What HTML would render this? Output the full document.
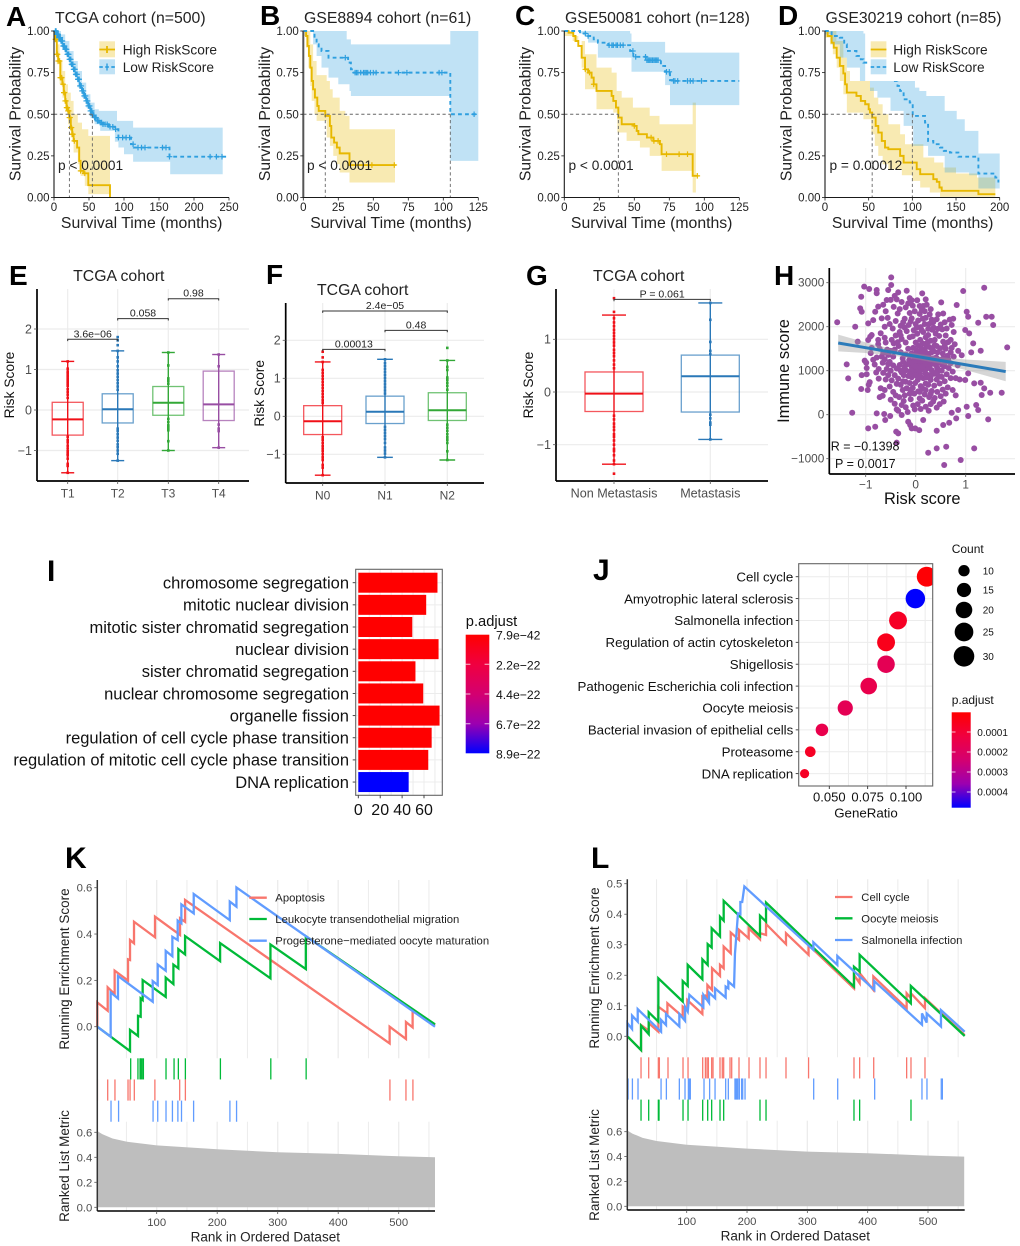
<!DOCTYPE html>
<html>
<head>
<meta charset="utf-8">
<title>Risk score multi-panel figure</title>
<style>
html,body{margin:0;padding:0;background:#fff}
svg{display:block}
text{font-family:"Liberation Sans",sans-serif;fill:#111}
.letter{font-weight:bold;font-size:28px;fill:#000}
.letter2{font-weight:bold;font-size:30px;fill:#000}
.kmtitle{font-size:15.8px;fill:#222}
.kmaxis{font-size:15.8px;fill:#222}
.kmleg{font-size:13.7px;fill:#222}
.ptext{font-size:13.7px;fill:#222}
.boxtitle{font-size:15.8px;fill:#222;text-anchor:middle}
.boxy{font-size:13.8px;fill:#111;text-anchor:middle}
.gsea{font-size:13.5px;fill:#222}
.gsealeg{font-size:11.3px;fill:#222}
</style>
</head>
<body>
<svg id="fig" xmlns="http://www.w3.org/2000/svg" width="1020" height="1246" viewBox="0 0 1020 1246">
<defs>
<linearGradient id="padj" x1="0" y1="0" x2="0" y2="1">
<stop offset="0" stop-color="#ff0000"/><stop offset=".25" stop-color="#f00040"/><stop offset=".5" stop-color="#d40070"/><stop offset=".75" stop-color="#9c00b0"/><stop offset="1" stop-color="#0000ff"/>
</linearGradient>
<clipPath id="j-clip"><rect x="799" y="564" width="133.7" height="222"/></clipPath>
<clipPath id="e-clip"><rect x="37" y="289" width="212" height="192"/></clipPath>
</defs>
<g id="plots"></g>

<!-- Panel letters -->
<text class="letter" x="6" y="26">A</text>
<text class="letter" x="260" y="25">B</text>
<text class="letter" x="515" y="25">C</text>
<text class="letter" x="778" y="25">D</text>
<text class="letter" x="9" y="285">E</text>
<text class="letter" x="266" y="284">F</text>
<text class="letter" x="526" y="285">G</text>
<text class="letter" x="774" y="285">H</text>
<text class="letter2" x="47" y="581">I</text>
<text class="letter2" x="593" y="580">J</text>
<text class="letter2" x="65" y="868">K</text>
<text class="letter2" x="591" y="868">L</text>

<!-- KM titles and axis titles -->
<text class="kmtitle" x="55" y="23">TCGA cohort (n=500)</text>
<text class="kmtitle" x="304" y="23">GSE8894 cohort (n=61)</text>
<text class="kmtitle" x="565" y="23">GSE50081 cohort (n=128)</text>
<text class="kmtitle" x="825.5" y="23">GSE30219 cohort (n=85)</text>
<text class="kmaxis" text-anchor="middle" transform="translate(20.5,114) rotate(-90)">Survival Probability</text>
<text class="kmaxis" text-anchor="middle" transform="translate(270,114) rotate(-90)">Survival Probability</text>
<text class="kmaxis" text-anchor="middle" transform="translate(530.5,114) rotate(-90)">Survival Probability</text>
<text class="kmaxis" text-anchor="middle" transform="translate(791.5,114) rotate(-90)">Survival Probability</text>
<text class="kmaxis" text-anchor="middle" x="141.7" y="228">Survival Time (months)</text>
<text class="kmaxis" text-anchor="middle" x="391" y="228">Survival Time (months)</text>
<text class="kmaxis" text-anchor="middle" x="651.7" y="228">Survival Time (months)</text>
<text class="kmaxis" text-anchor="middle" x="912.7" y="228">Survival Time (months)</text>
<text class="ptext" x="58" y="170">p &lt; 0.0001</text>
<text class="ptext" x="307" y="170">p &lt; 0.0001</text>
<text class="ptext" x="568.5" y="170">p &lt; 0.0001</text>
<text class="ptext" x="829.5" y="170">p = 0.00012</text>

<!-- Legend A -->
<g>
<rect x="99.3" y="41.3" width="15.7" height="16" fill="#E7B800" fill-opacity=".3"/>
<rect x="99.3" y="59.3" width="15.7" height="15" fill="#2E9FDF" fill-opacity=".3"/>
<path d="M99.3 49.5H115M107 46V53" stroke="#E7B800" stroke-width="1.8" fill="none"/>
<path d="M99.3 67H115" stroke="#2E9FDF" stroke-width="1.8" stroke-dasharray="3.5 2.5" fill="none"/>
<path d="M107 63.5V70.5" stroke="#2E9FDF" stroke-width="1.4" fill="none"/>
<text class="kmleg" x="122.7" y="54.7">High RiskScore</text>
<text class="kmleg" x="122.7" y="72">Low RiskScore</text>
</g>
<!-- Legend D -->
<g>
<rect x="870" y="40" width="122" height="41" fill="#fff"/>
<rect x="870.7" y="41.3" width="15.7" height="16" fill="#E7B800" fill-opacity=".3"/>
<rect x="870.7" y="59.3" width="15.7" height="15" fill="#2E9FDF" fill-opacity=".3"/>
<path d="M870.7 49.5H886.4" stroke="#E7B800" stroke-width="1.8" fill="none"/>
<path d="M870.7 67H886.4" stroke="#2E9FDF" stroke-width="1.8" stroke-dasharray="3.5 2.5" fill="none"/>
<text class="kmleg" x="893.3" y="54.7">High RiskScore</text>
<text class="kmleg" x="893.3" y="72">Low RiskScore</text>
</g>

<!-- Box plot titles -->
<text class="boxtitle" x="118.8" y="281">TCGA cohort</text>
<text class="boxtitle" x="362.7" y="295">TCGA cohort</text>
<text class="boxtitle" x="638.7" y="281">TCGA cohort</text>
<text class="boxy" transform="translate(14,385) rotate(-90)">Risk Score</text>
<text class="boxy" transform="translate(264,393.3) rotate(-90)">Risk Score</text>
<text class="boxy" transform="translate(533,385) rotate(-90)">Risk Score</text>

<!-- Scatter titles -->
<text font-size="16.4" fill="#111" text-anchor="middle" transform="translate(789,371) rotate(-90)">Immune score</text>
<text font-size="16.4" fill="#111" text-anchor="middle" x="922.3" y="504">Risk score</text>
<text font-size="12.5" fill="#111" x="830.7" y="450.5">R = −0.1398</text>
<text font-size="12.5" fill="#111" x="835" y="468">P = 0.0017</text>

<!-- I legend -->
<text font-size="14.7" fill="#111" x="465.8" y="625.8">p.adjust</text>
<rect x="465.7" y="634.7" width="23.6" height="118.6" fill="url(#padj)"/>
<path d="M465.7 664.2h4.7M484.6 664.2h4.7M465.7 694h4.7M484.6 694h4.7M465.7 723.7h4.7M484.6 723.7h4.7" stroke="#fff" stroke-opacity=".75" stroke-width="1" fill="none"/>
<!-- J legend -->
<text font-size="12" fill="#111" x="951.7" y="553">Count</text>
<text font-size="12" fill="#111" x="951.7" y="704">p.adjust</text>
<rect x="951.7" y="712.3" width="19" height="95.4" fill="url(#padj)"/>
<path d="M951.7 732h3.8M966.9 732h3.8M951.7 752h3.8M966.9 752h3.8M951.7 772h3.8M966.9 772h3.8M951.7 792h3.8M966.9 792h3.8" stroke="#fff" stroke-opacity=".75" stroke-width="1" fill="none"/>
<text font-size="13.3" fill="#111" text-anchor="middle" x="866" y="817.5">GeneRatio</text>

<!-- K text -->
<text class="gsea" text-anchor="middle" transform="translate(69,969) rotate(-90)">Running Enrichment Score</text>
<text class="gsea" text-anchor="middle" transform="translate(69,1166) rotate(-90)">Ranked List Metric</text>
<text class="gsea" text-anchor="middle" font-size="13.6" x="265.3" y="1241.5">Rank in Ordered Dataset</text>
<text class="gsealeg" x="275.3" y="901.7">Apoptosis</text>
<text class="gsealeg" x="275.3" y="923">Leukocyte transendothelial migration</text>
<text class="gsealeg" x="275.3" y="944.7">Progesterone−mediated oocyte maturation</text>
<!-- L text -->
<text class="gsea" text-anchor="middle" transform="translate(599,968) rotate(-90)">Running Enrichment Score</text>
<text class="gsea" text-anchor="middle" transform="translate(599,1165) rotate(-90)">Ranked List Metric</text>
<text class="gsea" text-anchor="middle" font-size="13.6" x="795.3" y="1240.5">Rank in Ordered Dataset</text>
<text class="gsealeg" x="861.3" y="901">Cell cycle</text>
<text class="gsealeg" x="861.3" y="922.3">Oocyte meiosis</text>
<text class="gsealeg" x="861.3" y="944">Salmonella infection</text>
</svg>

<script>
/* ---------- Kaplan-Meier data: [months, survival] ---------- */
const kmYTicks=[0,.25,.5,.75,1];
const kmYLabels=['0.00','0.25','0.50','0.75','1.00'];
const aXTicks=[0,50,100,150,200,250];
const bXTicks=[0,25,50,75,100,125];
const cXTicks=[0,25,50,75,100,125];
const dXTicks=[0,50,100,150,200];

const aHigh=[[0,1],[2,.95],[4,.86],[6,.82],[9,.72],[12,.68],[14,.63],[16,.58],[18,.54],[20,.52],[22,.48],[24,.42],[26,.38],[28,.34],[33,.3],[36,.22],[38,.16],[42,.145],[49,.074],[80,0]];
const aHighUp=[[0,1],[4,.92],[8,.82],[12,.76],[16,.68],[20,.63],[24,.58],[28,.5],[34,.45],[40,.41],[49,.37],[80,.37]];
const aHighLow=[[0,.97],[4,.8],[8,.68],[12,.6],[16,.52],[20,.44],[24,.36],[28,.27],[34,.2],[38,.13],[44,.07],[49,.02],[80,0]];
const aLow=[[0,1],[4,.98],[7,.96],[10,.94],[13,.91],[16,.89],[19,.86],[22,.83],[25,.8],[28,.77],[31,.74],[34,.71],[37,.67],[40,.64],[43,.61],[46,.58],[49,.55],[52,.52],[55,.495],[58,.48],[62,.46],[66,.45],[70,.44],[78,.425],[87,.41],[92,.36],[106,.36],[110,.32],[114,.30],[165,.245],[247,.245]];
const aLowUp=[[0,1],[10,.98],[16,.94],[22,.88],[28,.82],[34,.76],[40,.69],[46,.62],[52,.57],[58,.53],[64,.52],[87,.52],[90,.46],[113,.42],[241,.42]];
const aLowLow=[[0,.99],[4,.96],[10,.91],[16,.86],[22,.79],[28,.73],[34,.66],[40,.6],[46,.54],[52,.48],[58,.44],[66,.4],[87,.335],[92,.3],[100,.26],[113,.215],[166,.14],[241,.14]];
const aHighCensor=[2,3,4,5,6,8,9,10,11,13,14,15,16,17,18,19,20,21,22,23,24,25,26,27,29,38,44];
const aLowCensor=[2,3,4,5,6,7,8,9,10,11,12,13,14,15,16,17,18,19,20,21,22,23,24,25,26,27,28,29,30,31,32,33,34,35,36,37,38,39,40,41,42,43,44,45,46,47,48,49,50,51,52,53,54,55,56,57,58,59,60,62,64,66,68,70,73,76,80,84,88,92,98,103,108,113,120,125,130,155,160,165,223,232,240];
const aMedians=[22,54.8];

const bHigh=[[0,1],[2,.97],[3,.91],[4,.85],[5,.78],[6,.7],[7,.65],[8.3,.6],[10,.55],[11,.52],[15.7,.49],[19,.43],[20,.36],[22,.33],[24,.30],[26,.265],[33,.195],[66,.195]];
const bHighUp=[[0,1],[3,1],[5,.92],[7,.82],[9.5,.735],[16.7,.70],[19,.65],[21,.6],[26,.52],[30,.49],[33,.41],[65.5,.41]];
const bHighLow=[[0,.97],[2,.9],[3.6,.78],[5,.67],[6,.58],[8,.5],[9.5,.46],[16.7,.36],[19,.31],[21.4,.25],[24,.2],[26,.15],[33,.09],[65.5,.09]];
const bLow=[[0,1],[7,1],[8,.96],[9.5,.92],[11,.9],[13,.88],[18,.84],[32,.81],[34,.77],[36,.75],[105,.5],[125,.5]];
const bLowUp=[[7,1],[31,.95],[34,.92],[105,1],[125,1]];
const bLowLow=[[7,.92],[9.5,.85],[13,.78],[18,.72],[25,.68],[33,.64],[34,.61],[105,.22],[125,.22]];
const bHighCensor=[49,65];
const bLowCensor=[30,37,38,39,41,43,44,45,46,48,50,52,68,74,97,99,122];
const bMedians=[15.7,105];

const cHigh=[[0,1],[3,.99],[6.4,.97],[8,.94],[10,.91],[12.4,.84],[14.8,.77],[17,.75],[19.5,.72],[21,.68],[23,.64],[33.8,.61],[35,.58],[36.9,.54],[38.6,.48],[41,.44],[50,.43],[51.7,.40],[52.9,.38],[59,.36],[63.6,.34],[68.3,.32],[69.5,.26],[91.7,.13],[95.7,.13]];
const cHighUp=[[0,1],[7,.97],[10,.94],[14.8,.86],[23,.78],[33.8,.75],[37.4,.64],[41,.6],[49,.54],[61,.49],[68,.44],[91.7,.57],[94,.57]];
const cHighLow=[[0,.97],[6,.94],[12.4,.78],[14.8,.65],[23,.53],[35,.51],[37.9,.39],[44.5,.34],[54,.30],[61,.25],[69.5,.16],[91.7,.03],[94,.03]];
const cLow=[[0,1],[11.2,.985],[17,.97],[21,.95],[24,.93],[31.4,.915],[47,.88],[49.3,.845],[58.8,.825],[69,.79],[72,.755],[75.5,.705],[78,.70],[125,.70]];
const cLowUp=[[0,1],[47,.985],[48,.935],[72,.87],[125,.87]];
const cLowLow=[[0,1],[11,.985],[17,.93],[24,.84],[48,.755],[72,.675],[75.5,.555],[125,.555]];
const cHighCensor=[15,18,21,50,62,64,67,73,82,88,95];
const cLowCensor=[15,17,32,34,35,37,38,40,42,49,51,58,59,60,61,62,63,64,65,66,67,73,75,78,79,81,88,90,92,98];
const cMedians=[38.6];

const dHigh=[[0,1],[3,.97],[7.6,.93],[10,.9],[13.4,.84],[17,.79],[21,.745],[23,.68],[25,.63],[36,.61],[41,.58],[46,.56],[50,.53],[51.5,.51],[54,.48],[58,.43],[61,.39],[65,.34],[68.7,.30],[72.5,.29],[86,.25],[90,.21],[101,.21],[105,.17],[109,.14],[120,.14],[124,.11],[128,.094],[131,.06],[133.6,.04],[174,.04],[175.6,.02],[195,.02]];
const dHighUp=[[0,1],[13,.94],[21,.84],[25,.76],[28.6,.70],[51.5,.66],[56,.6],[61,.56],[66,.5],[72.5,.44],[86,.38],[91.6,.32],[112.6,.24],[125,.21],[135.5,.18],[150,.144],[174,.12],[195,.12]];
const dHighLow=[[0,.96],[5.7,.92],[9,.86],[13.4,.78],[17,.7],[21,.62],[25,.51],[44,.47],[53,.38],[57,.31],[61,.25],[66,.2],[72.5,.17],[88,.134],[100,.1],[109,.06],[120,.03],[131.7,.004],[195,.004]];
const dLow=[[0,1],[7.6,.97],[17,.96],[22,.92],[25,.88],[36,.85],[41,.83],[44,.81],[80,.70],[83,.67],[86,.64],[90,.59],[97,.57],[100.4,.49],[114.5,.45],[118,.34],[124,.32],[131.7,.30],[136,.28],[143,.27],[152.7,.245],[175.6,.144],[195,.12],[198.5,.09]];
const dLowUp=[[0,1],[28.6,1],[44,.985],[46,.70],[103,.66],[108,.64],[116,.61],[137,.52],[150.8,.47],[160,.4],[175.6,.264],[200,.264]];
const dLowLow=[[0,.98],[7.6,.92],[17,.84],[25,.78],[40,.70],[51.5,.64],[60,.6],[75,.52],[90,.43],[101,.31],[118,.25],[137,.15],[165,.134],[175.6,.054],[200,.03]];
const dHighCensor=[];
const dLowCensor=[];
const dMedians=[54,100];

/* ---------- Box plot data: [whiskerLow, q1, median, q3, whiskerHigh] ---------- */
const eCategories=['T1','T2','T3','T4'];
const eT1=[-1.55,-.62,-.23,.19,1.2];
const eT2=[-1.25,-.32,.02,.4,1.46];
const eT3=[-1,-.13,.18,.58,1.42];
const eT4=[-.93,-.26,.14,.96,1.37];
const eT1Dots=[-1.55,-1.38,-1.33,-1.2,-1.12,-1.08,-1.02,-.95,-.88,-.8,-.74,-.66,.3,.38,.45,.52,.6,.66,.72,.78,.84,.9,.95,1.02,1.2];
const eT2Dots=[-1.25,-1.08,-1,-.92,-.85,-.76,-.68,-.6,-.52,-.46,.5,.58,.66,.74,.82,.9,.98,1.08,1.2,1.3,1.46,1.6,1.72,1.8];
const eT3Dots=[-1,-.77,-.5,-.44,-.38,-.3,-.22,.65,.72,.78,1.1,1.42];
const eT4Dots=[-.93,-.52,-.46,-.36,1.08,1.37];
const eTicks=[-1,0,1,2];
const eBracketA=[0,1,1.746,'3.6e−06'];
const eBracketB=[1,2,2.255,'0.058'];
const eBracketC=[2,3,2.747,'0.98'];

const fCategories=['N0','N1','N2'];
const fN0=[-1.55,-.48,-.13,.28,1.43];
const fN1=[-1.08,-.19,.12,.53,1.5];
const fN2=[-1.15,-.11,.16,.62,1.47];
const fN0Dots=[-1.55,-1.35,-1.28,-1.15,-1.08,-1,-.92,-.85,-.78,-.7,-.62,-.55,.35,.42,.5,.58,.66,.74,.82,.9,.98,1.06,1.14,1.22,1.43,1.55,1.7];
const fN1Dots=[-1.08,-.98,-.9,-.82,-.7,-.6,-.52,-.44,-.36,-.28,.6,.68,.76,.84,.92,1,1.08,1.16,1.24,1.32,1.4,1.5];
const fN2Dots=[-1.15,-.92,-.7,-.62,-.55,-.47,-.38,-.3,-.22,.7,.8,.88,.96,1.02,1.22,1.3,1.47,1.8];
const fTicks=[-1,0,1,2];
const fBracketA=[0,1,1.76,'0.00013'];
const fBracketB=[1,2,2.26,'0.48'];
const fBracketC=[0,2,2.77,'2.4e−05'];

const gCategories=['Non Metastasis','Metastasis'];
const gNon=[-1.37,-.37,-.03,.38,1.46];
const gMet=[-.9,-.38,.3,.7,1.69];
const gNonDots=[-1.55,-1.37,-1.3,-1.2,-1.12,-1.08,-1,-.92,-.85,-.8,-.72,-.66,-.6,-.52,-.45,.45,.52,.6,.68,.74,.8,.88,.94,1,1.06,1.12,1.18,1.25,1.32,1.4,1.52,1.78];
const gMetDots=[-.9,-.62,-.58,-.5,-.43,.72,.78,.95,1.37,1.69];
const gTicks=[-1,0,1];
const gBracketA=[0,1,1.757,'P = 0.061'];

/* ---------- Scatter data: [risk score, immune score] ---------- */
const hXTicks=[-1,0,1];
const hYTicks=[-1000,0,1000,2000,3000];
const scatterOutlying=[[-1.57,2100],[-1.21,2000],[-1.38,1145],[-1.35,826],[-1.27,45],[-1.09,583],[-1.16,1660],[-1.09,2680],[-1.03,2910],[-.93,2856],[-.78,2833],[-.78,2760],[-.49,3120],[-.49,2947],[-.55,2833],[-.35,2780],[-.18,2818],[.13,2758],[.95,2810],[1.37,2886],[.51,2553],[.82,2492],[1.02,2340],[1.05,2227],[1.25,2090],[1.41,2227],[1.52,2227],[1.55,2038],[1.83,1530],[1.3,1454],[1.11,1416],[1.15,1620],[1.07,1848],[.99,1924],[1.72,500],[1.49,500],[1.32,447],[1.37,598],[1.3,727],[1.17,712],[1.05,939],[.99,788],[1.45,-106],[1.25,106],[1.21,220],[1.02,182],[1.05,-30],[.85,106],[.72,45],[.81,-83],[.67,-182],[.55,-235],[.42,-364],[1.17,-765],[.9,-1030],[.61,-727],[.42,-765],[.25,-864],[.57,-1144],[-.38,-636],[-.35,-424],[-.39,-386],[-.81,-273],[-.95,-310],[-.61,-121],[-.78,30],[-.63,15],[-.51,-30],[-.28,-8],[-.15,-160],[-.11,-235],[-.01,-310],[.07,-350],[-.08,-310],[.15,-120],[-.95,2076],[-.85,2150],[-.68,2190],[-1.11,2417],[-1.08,2340],[-.75,2455],[-.81,2340],[-.58,2606],[-.91,1773],[-.95,1697],[-.88,1810]];
const scatterCore=[[-.72,1500],[-.68,1320],[-.66,1180],[-.74,1040],[-.79,960],[-.82,1140],[-.85,1250],[-.99,1180],[-1.02,1230],[-.98,1060],[-1.08,900],[-.98,920],[-.94,680],[-.96,560],[-.92,740],[-.74,820],[-.7,600],[-.62,560],[-.66,430],[-.72,400],[-.6,1640],[-.57,1480],[-.55,1360],[-.52,1200],[-.58,1040],[-.55,900],[-.48,780],[-.52,640],[-.45,520],[-.5,340],[-.42,250],[-.4,440],[-.38,120],[-.35,90],[-.45,1320],[-.42,1480],[-.44,1620],[-.4,1800],[-.46,1960],[-.52,2060],[-.56,2200],[-.6,2350],[-.65,2500],[-.5,2610],[-.44,2450],[-.36,2300],[-.4,2130],[-.3,2020],[-.32,1880],[-.28,1720],[-.34,1560],[-.3,1420],[-.26,1280],[-.32,1130],[-.28,960],[-.35,820],[-.3,680],[-.26,560],[-.33,400],[-.24,310],[-.2,170],[-.16,60],[-.22,440],[-.18,600],[-.2,750],[-.15,880],[-.2,1010],[-.17,1150],[-.13,1240],[-.2,1370],[-.15,1500],[-.2,1640],[-.12,1760],[-.18,1900],[-.14,2040],[-.22,2180],[-.12,2310],[-.2,2440],[-.28,2560],[-.12,2650],[-.06,2480],[-.02,2350],[-.08,2190],[0,2060],[-.04,1920],[-.06,1780],[0,1640],[-.05,1520],[-.08,1390],[-.02,1300],[-.06,1220],[-.09,1110],[-.02,1050],[-.05,960],[-.08,850],[-.01,720],[-.06,610],[-.03,480],[-.1,350],[-.05,210],[-.02,120],[.04,240],[.08,370],[.05,530],[.1,650],[.04,790],[.08,920],[.03,1000],[.07,1090],[.02,1170],[.08,1250],[.04,1340],[.1,1440],[.05,1570],[.09,1700],[.03,1840],[.1,1990],[.05,2140],[.08,2290],[.15,2470],[.2,2620],[.22,2500],[.18,2350],[.14,2180],[.18,2060],[.15,1880],[.2,1760],[.14,1620],[.18,1490],[.14,1370],[.19,1280],[.13,1190],[.17,1110],[.12,1030],[.19,950],[.15,830],[.2,710],[.14,590],[.18,460],[.13,320],[.2,180],[.26,90],[.3,240],[.27,400],[.32,540],[.25,680],[.3,790],[.26,900],[.32,1010],[.25,1120],[.3,1220],[.26,1320],[.32,1420],[.27,1540],[.3,1680],[.25,1810],[.33,1930],[.27,2060],[.32,2160],[.36,1980],[.4,1840],[.38,1700],[.42,1560],[.36,1440],[.41,1300],[.37,1180],[.43,1060],[.38,930],[.42,800],[.37,660],[.43,520],[.38,380],[.42,160],[.48,240],[.5,420],[.54,570],[.48,710],[.52,860],[.47,1000],[.53,1130],[.48,1250],[.54,1390],[.49,1510],[.55,1660],[.47,1790],[.53,1940],[.58,2100],[.62,1960],[.6,1800],[.65,1650],[.6,1500],[.64,1340],[.6,1200],[.66,1060],[.62,920],[.58,760],[.64,620],[.6,480],[.56,300],[.7,830],[.74,980],[.7,1170],[.76,1320],[.72,1520],[.7,1700],[.76,1880],[.72,2040],[.68,2160],[.75,2180],[.84,1120],[.8,830],[.74,560],[.8,440],[.92,1350],[.88,800],[.55,2300],[.42,2170],[.45,2280],[.08,2470],[.03,2600],[-.08,2600],[.35,2100],[.24,1650],[.28,1100],[.12,1500],[.22,1400],[.08,1150],[.22,1050],[-.1,1000],[-.25,1200],[-.12,1340],[.35,950],[.35,1280],[-.24,900],[.02,1450],[.16,1250],[.1,1100],[.2,1150],[.05,1230],[.24,1240],[.12,1310],[.06,1010],[.18,1010],[-.04,1130],[-.12,1180]];
const scatterExtra=[[-.62,2000],[-.7,1850],[-.75,1700],[-.62,1750],[-.48,1700],[-.36,1650],[-.3,1800],[-.22,1980],[-.25,2100],[-.1,2120],[.02,1980],[.12,1920],[.25,1950],[.2,2200],[.12,2380],[.28,2280],[-.32,2400],[-.42,2700],[-.38,2620],[-.15,2530],[.3,2400],[.44,1950],[.5,2050],[.38,1580],[.33,1500],[.44,1420],[.58,1570],[.7,1420],[.78,1600],[.85,1450],[.65,1260],[.55,1280],[.45,1180],[.52,1000],[.58,1100],[.4,950],[.46,870],[.3,870],[.22,850],[.1,860],[0,900],[-.12,920],[-.22,1080],[-.3,1000],[-.38,1050],[-.45,1120],[-.5,1000],[-.42,900],[-.38,700],[-.25,760],[-.12,720],[-.1,560],[.08,520],[.2,560],[.3,480],[.35,300],[.1,130],[-.12,480],[-.28,220],[-.6,800],[-.65,950],[-.55,1150],[-.62,1260],[-.5,1450],[-.65,1400],[-.78,1300],[-.9,1400],[-.88,1520],[-.75,1600],[.1,1370],[.15,1290],[.2,1190],[.1,1220],[.3,1150],[.27,1260],[.16,1420],[.22,1560],[0,1380],[-.03,1200],[.13,1090],[.05,1100],[0,1100],[.4,1130],[.35,1200]];
const fitX=[-1.55,-1,-.5,0,.5,1,1.8];
const fitY=[1630,1523,1426,1329,1232,1135,980];
const fitUpper=[1820,1643,1501,1394,1307,1255,1200];
const fitLower=[1440,1403,1351,1264,1157,1015,760];

/* ---------- GO bar data ---------- */
const iTerms=['chromosome segregation','mitotic nuclear division','mitotic sister chromatid segregation','nuclear division','sister chromatid segregation','nuclear chromosome segregation','organelle fission','regulation of cell cycle phase transition','regulation of mitotic cell cycle phase transition','DNA replication'];
const iCounts=[72.3,62,49.3,73.3,52.2,59.3,74.2,67,63.9,46];
const iColors=['#ff0000','#ff0000','#ff0000','#ff0000','#ff0000','#ff0000','#ff0000','#ff0000','#ff0000','#0000ff'];
const iXTicks=[0,20,40,60];
const iLegendLabels=['7.9e−42','2.2e−22','4.4e−22','6.7e−22','8.9e−22'];

/* ---------- KEGG dot data ---------- */
const jTerms=['Cell cycle','Amyotrophic lateral sclerosis','Salmonella infection','Regulation of actin cytoskeleton','Shigellosis','Pathogenic Escherichia coli infection','Oocyte meiosis','Bacterial invasion of epithelial cells','Proteasome','DNA replication'];
const jRatio=[.1135,.1061,.0948,.087,.087,.0757,.0604,.0452,.0376,.0339];
const jCount=[28,27,23,23,22,20,17,12,9,7];
const jPadjust=[.00001,.00048,.00007,.00005,.00017,.00015,.00017,.00015,.00007,.00007];
const jXTicks=[.05,.075,.1];
const jXLabels=['0.050','0.075','0.100'];
const jSizeLegend=[10,15,20,25,30];
const jColorTicks=[.0001,.0002,.0003,.0004];
const jColorLabels=['0.0001','0.0002','0.0003','0.0004'];

/* ---------- GSEA data: [rank, running score] ---------- */
const rankTicks=[100,200,300,400,500];
const metricTicks=[0,.2,.4,.6];
const metricLabels=['0.0','0.2','0.4','0.6'];
const metricCurve=[[1,.612],[10,.585],[27,.55],[50,.525],[100,.495],[200,.464],[300,.44],[400,.427],[500,.408],[560,.40]];
const kEsTicks=[0,.2,.4,.6];
const kEsLabels=['0.0','0.2','0.4','0.6'];
const lEsTicks=[0,.1,.2,.3,.4,.5];
const lEsLabels=['0.0','0.1','0.2','0.3','0.4','0.5'];

const kApoptosis=[[1.8,0],[1.8,.105],[19,.069],[19,.17],[30.5,.141],[30.5,.242],[52.6,.199],[52.6,.291],[55.9,.288],[55.9,.374],[62.5,.36],[62.5,.453],[97.2,.386],[97.2,.475],[138.6,.396],[138.6,.468],[146.9,.453],[146.9,.547],[485,-.072],[485,0],[512,-.053],[512,.02],[523,-.003],[523,.068],[560,.007]];
const kLeukocyte=[[1.8,0],[55.9,-.105],[55.9,-.014],[69.1,-.04],[69.1,.047],[73.5,.043],[73.5,.122],[76.8,.115],[76.8,.201],[114.9,.129],[114.9,.212],[127.6,.184],[127.6,.268],[135.8,.252],[135.8,.335],[146.9,.312],[146.9,.391],[204.8,.283],[204.8,.361],[288,.209],[288,.355],[346.5,.249],[346.5,.391],[560,.01]];
const kProgesterone=[[1.8,0],[23.9,-.043],[23.9,.148],[36,.122],[36,.219],[93.4,.108],[93.4,.197],[101.7,.18],[101.7,.268],[114.9,.242],[114.9,.327],[125.9,.304],[125.9,.388],[134.7,.374],[134.7,.458],[140.8,.446],[140.8,.528],[161.2,.489],[161.2,.573],[220.8,.46],[220.8,.54],[231.8,.518],[231.8,.601],[560,0]];
const kRugLeukocyte=[57,69,72.5,74,76,78,115.4,128.7,135.8,147.4,205.3,288.6,347];
const kRugApoptosis=[2,19,31,52.6,56,63,97,138,147.4,485.5,512,523.5];
const kRugProgesterone=[24.5,37,94,101.7,115.4,126,135,141,161,221,232];

const lCellCycle=[[1.7,0],[24.3,-.045],[24.3,.037],[37,.019],[37,.043],[53,.015],[53,.097],[68,.075],[68,.108],[93.4,.064],[93.4,.097],[101,.084],[101,.119],[126,.073],[126,.13],[130,.125],[130,.136],[134.3,.119],[134.3,.168],[142,.152],[142,.223],[155.2,.198],[155.2,.234],[161.3,.223],[161.3,.294],[173,.272],[173,.34],[186.7,.316],[186.7,.349],[202.8,.321],[202.8,.354],[221.5,.318],[221.5,.338],[231.5,.332],[231.5,.368],[264.6,.302],[264.6,.338],[302,.267],[302,.299],[377.3,.157],[377.3,.201],[386.7,.174],[386.7,.207],[409.4,.152],[409.4,.196],[464.6,.092],[464.6,.141],[471.5,.125],[471.5,.141],[495,.092],[495,.125],[560.8,.004]];
const lOocyte=[[1.7,0],[24.3,-.045],[24.3,.035],[37,.007],[37,.079],[53,.048],[53,.19],[93.4,.114],[93.4,.181],[101.7,.165],[101.7,.234],[126,.187],[126,.252],[134.8,.234],[134.8,.302],[141.4,.291],[141.4,.354],[155.2,.327],[155.2,.392],[161.3,.379],[161.3,.444],[221.5,.329],[221.5,.395],[231.5,.376],[231.5,.438],[377.3,.163],[377.3,.228],[386.7,.212],[386.7,.267],[471.5,.108],[471.5,.165],[560.8,.001]];
const lSalmonella=[[1.7,0],[1.7,.043],[9.4,.024],[9.4,.068],[18.8,.048],[18.8,.089],[57.5,.015],[57.5,.054],[65.7,.037],[65.7,.073],[87.8,.032],[87.8,.073],[97.2,.051],[97.2,.097],[101.7,.081],[104.4,.136],[127.6,.095],[127.6,.136],[137,.11],[137,.143],[147,.125],[147,.157],[164.6,.127],[164.6,.163],[169,.157],[169,.179],[178.5,.163],[180,.27],[185,.403],[189,.4],[189,.44],[192,.44],[195.6,.491],[310,.283],[310,.308],[349.7,.234],[349.7,.263],[411,.152],[411,.181],[490,.038],[490,.075],[497.8,.045],[497.8,.075],[521.5,.032],[521.5,.086],[560.8,.015]];
const lRugCellCycle=[24.3,37,53,54.7,69,93.9,102.2,126.5,131,133.7,135.9,141.4,143.6,155.2,159,161.3,171.8,174.6,186.7,203.3,221.5,231.5,264.6,302,377.3,386.7,410,464.6,471.8,495];
const lRugSalmonella=[2.8,10,19.3,57.5,66.3,87.8,97.2,102.8,104.4,106,128.7,138,147,164.6,169,180,181.8,183.4,185,187.3,191,192.8,196.7,310.5,350.3,411.6,490,498.3,522,523.8];
const lRugOocyte=[24.3,37,53,54.1,93.9,102.2,126.5,134.8,141.4,155.2,161.3,221.5,231.5,377.3,386.7,471.8];

/* ---------- helpers ---------- */
const NS='http://www.w3.org/2000/svg';
const root=document.getElementById('plots');
const AX='#1a1a1a', TXT='#4d4d4d', GRID='#ececec';
const GOLD='#E7B800', SKY='#2E9FDF';
function lin(d0,d1,r0,r1){return v=>r0+(v-d0)*(r1-r0)/(d1-d0);}
function add(parent,tag,attrs,name){
  const node=document.createElementNS(NS,tag);
  for(const k in attrs){node.setAttribute(k,attrs[k]);}
  
  
  parent.appendChild(node);
  return node;
}
function label(parent,x,y,str,size,fill,anchor,name){
  const t=add(parent,'text',{x:x,y:y,'font-size':size,'text-anchor':anchor},name);
  t.style.fill=fill;
  t.textContent=str;
  return t;
}
function line(parent,x1,y1,x2,y2,stroke,w,name){
  return add(parent,'line',{x1:x1,y1:y1,x2:x2,y2:y2,stroke:stroke,'stroke-width':w},name);
}
function stepped(arr){
  const out=[arr[0]];
  for(let i=1;i<arr.length;i++){out.push([arr[i][0],arr[i-1][1]]);out.push(arr[i]);}
  return out;
}
function pathOf(pts,X,Y,close){
  return 'M'+pts.map(p=>X(p[0]).toFixed(2)+' '+Y(p[1]).toFixed(2)).join('L')+(close?'Z':'');
}
function survivalAt(curve,t){
  let s=curve[0][1];
  for(const p of curve){if(p[0]<=t){s=p[1];}}
  return s;
}
function gradColor(t){
  const stops=[[255,0,0],[240,0,64],[212,0,112],[156,0,176],[0,0,255]];
  const f=Math.min(.9999,Math.max(0,t))*4, i=Math.floor(f), u=f-i;
  const c=stops[i].map((v,k)=>Math.round(v+(stops[i+1][k]-v)*u));
  return 'rgb('+c.join(',')+')';
}

/* ---------- Kaplan-Meier ---------- */
function kmPanel(id,x0,x1,xMax,xTicks,high,highUp,highLow,low,lowUp,lowLow,highCensor,lowCensor,medians,thickAxis){
  const g=add(root,'g',{},'km-panel-'+id);
  const X=lin(0,xMax,x0,x1), Y=lin(0,1,197.5,31);
  add(g,'path',{d:pathOf(stepped(highUp).concat(stepped(highLow).reverse()),X,Y,true),fill:GOLD,'fill-opacity':.3},'high-risk-ci-band');
  add(g,'path',{d:pathOf(stepped(lowUp).concat(stepped(lowLow).reverse()),X,Y,true),fill:SKY,'fill-opacity':.3},'low-risk-ci-band');
  add(g,'path',{d:pathOf(stepped(high),X,Y,false),fill:'none',stroke:GOLD,'stroke-width':1.9},'high-risk-curve');
  add(g,'path',{d:pathOf(stepped(low),X,Y,false),fill:'none',stroke:SKY,'stroke-width':1.9,'stroke-dasharray':'3.8 3.2'},'low-risk-curve');
  highCensor.forEach(t=>{
    const px=X(t), py=Y(survivalAt(high,t));
    add(g,'path',{d:`M${px-2.8} ${py}H${px+2.8}M${px} ${py-2.8}V${py+2.8}`,stroke:GOLD,'stroke-width':1.2,fill:'none'},'high-risk-censor');
  });
  lowCensor.forEach(t=>{
    const px=X(t), py=Y(survivalAt(low,t));
    add(g,'path',{d:`M${px-2.8} ${py}H${px+2.8}M${px} ${py-2.8}V${py+2.8}`,stroke:SKY,'stroke-width':1.2,fill:'none'},'low-risk-censor');
  });
  const maxMedian=Math.max.apply(null,medians);
  add(g,'line',{x1:x0,y1:Y(.5),x2:X(maxMedian),y2:Y(.5),stroke:'#666','stroke-width':.9,'stroke-dasharray':'3.2 2.6'},'median-reference-line');
  medians.forEach(m=>{
    add(g,'line',{x1:X(m),y1:Y(.5),x2:X(m),y2:Y(0),stroke:'#666','stroke-width':.9,'stroke-dasharray':'3.2 2.6'},'median-drop-line');
  });
  line(g,x0,31,x0,197.5,thickAxis?'#555':AX,thickAxis?2:1.1,'y-axis');
  line(g,x0,197.5,x1,197.5,AX,1.1,'x-axis');
  kmYTicks.forEach((v,i)=>{
    line(g,x0-3,Y(v),x0,Y(v),AX,.8,'y-tick');
    label(g,x0-4.5,Y(v)+4,kmYLabels[i],11.5,'#222','end','y-tick-label');
  });
  xTicks.forEach(v=>{
    line(g,X(v),197.5,X(v),200.5,AX,.8,'x-tick');
    label(g,X(v),211,String(v),11.5,'#222','middle','x-tick-label');
  });
}
kmPanel('a',54,229,250,aXTicks,aHigh,aHighUp,aHighLow,aLow,aLowUp,aLowLow,aHighCensor,aLowCensor,aMedians,false);
kmPanel('b',303.3,478.3,125,bXTicks,bHigh,bHighUp,bHighLow,bLow,bLowUp,bLowLow,bHighCensor,bLowCensor,bMedians,true);
kmPanel('c',564.3,739.3,125,cXTicks,cHigh,cHighUp,cHighLow,cLow,cLowUp,cLowLow,cHighCensor,cLowCensor,cMedians,false);
kmPanel('d',825,999.7,200,dXTicks,dHigh,dHighUp,dHighLow,dLow,dLowUp,dLowLow,dHighCensor,dLowCensor,dMedians,false);

/* ---------- Box plots ---------- */
const BOX_RED='#f01018', BOX_BLUE='#2a78b8', BOX_GREEN='#33a837', BOX_PURPLE='#984ea3';
function boxPanel(id,left,right,top,bottom,yFn,yTicks,cats,catX,series,dots,colors,boxW,capW,brackets,tickSize,catSize,clip){
  const g=add(root,'g',{},'box-panel-'+id);
  yTicks.forEach(v=>line(g,left,yFn(v),right,yFn(v),GRID,1.2,'y-gridline'));
  catX.forEach(x=>line(g,x,top,x,bottom,GRID,1.2,'x-gridline'));
  series.forEach((s,i)=>{
    const x=catX[i], c=colors[i];
    line(g,x,yFn(s[0]),x,yFn(s[4]),c,1.4,'whisker-'+cats[i]);
    line(g,x-capW/2,yFn(s[0]),x+capW/2,yFn(s[0]),c,1.4,'whisker-cap-low');
    line(g,x-capW/2,yFn(s[4]),x+capW/2,yFn(s[4]),c,1.4,'whisker-cap-high');
    add(g,'rect',{x:x-boxW/2,y:yFn(s[3]),width:boxW,height:yFn(s[1])-yFn(s[3]),fill:'none',stroke:c,'stroke-width':1.3,'stroke-opacity':.7},'box-'+cats[i]);
    line(g,x-boxW/2,yFn(s[2]),x+boxW/2,yFn(s[2]),c,2,'median-'+cats[i]);
    dots[i].forEach(v=>{
      add(g,'rect',{x:x-1.3,y:yFn(v)-1.3,width:2.6,height:2.6,fill:c},'data-point');
    });
  });
  brackets.forEach(b=>{
    const y=yFn(b[2]), xa=catX[b[0]], xb=catX[b[1]];
    add(g,'path',{d:`M${xa} ${y+1.8}V${y}H${xb}V${y+1.8}`,fill:'none',stroke:'#333','stroke-width':1},'significance-bracket');
    const t=label(g,(xa+xb)/2,y-2,b[3],10.5,'#222','middle','p-value-label');
    if(clip&&b===brackets[brackets.length-1]){t.setAttribute('clip-path','url(#'+clip+')');}
  });
  line(g,left,top,left,bottom,'#000',1.7,'y-axis');
  line(g,left,bottom,right,bottom,'#000',1.7,'x-axis');
  yTicks.forEach(v=>{
    line(g,left-3,yFn(v),left,yFn(v),'#555',.8,'y-tick');
    label(g,left-5,yFn(v)+4.4,String(v).replace('-','−'),tickSize,TXT,'end','y-tick-label');
  });
  catX.forEach((x,i)=>{
    line(g,x,bottom,x,bottom+3,'#555',.8,'x-tick');
    label(g,x,bottom+16.5,cats[i],catSize,TXT,'middle','x-tick-label');
  });
}
boxPanel('e',37,249,289,481,lin(0,2,410,329),eTicks,eCategories,[67.7,117.7,168.3,218.7],[eT1,eT2,eT3,eT4],[eT1Dots,eT2Dots,eT3Dots,eT4Dots],[BOX_RED,BOX_BLUE,BOX_GREEN,BOX_PURPLE],31,13,[eBracketA,eBracketB,eBracketC],12.5,12,'e-clip');
boxPanel('f',285.7,484,303,483,lin(0,2,416.3,340.3),fTicks,fCategories,[322.7,385,447.3],[fN0,fN1,fN2],[fN0Dots,fN1Dots,fN2Dots],[BOX_RED,BOX_BLUE,BOX_GREEN],38,15.7,[fBracketA,fBracketB,fBracketC],12.5,12,null);
boxPanel('g',556,768,289,481,lin(0,1,392,339.3),gTicks,gCategories,[614,710.3],[gNon,gMet],[gNonDots,gMetDots],[BOX_RED,BOX_BLUE],58,24,[gBracketA],12.5,12.6,null);

/* ---------- Scatter ---------- */
(function(){
  const g=add(root,'g',{},'scatter-panel-h');
  const X=lin(0,1,915.7,965.7), Y=lin(0,1000,414.7,370.7);
  const left=829.3,right=1015,top=268,bottom=474;
  hYTicks.forEach(v=>line(g,left,Y(v),right,Y(v),GRID,1.2,'y-gridline'));
  hXTicks.forEach(v=>line(g,X(v),top,X(v),bottom,GRID,1.2,'x-gridline'));
  scatterOutlying.concat(scatterCore,scatterExtra).forEach(p=>{
    add(g,'circle',{cx:X(p[0]),cy:Y(p[1]),r:3,fill:'#984ea3'},'scatter-point');
  });
  const up=fitX.map((x,i)=>[x,fitUpper[i]]), lo=fitX.map((x,i)=>[x,fitLower[i]]);
  add(g,'path',{d:pathOf(up.concat(lo.reverse()),X,Y,true),fill:'#999','fill-opacity':.4},'regression-confidence-band');
  add(g,'path',{d:pathOf(fitX.map((x,i)=>[x,fitY[i]]),X,Y,false),fill:'none',stroke:'#2b7bba','stroke-width':3},'regression-line');
  line(g,left,top,left,bottom,'#000',1.7,'y-axis');
  line(g,left,bottom,right,bottom,'#000',1.7,'x-axis');
  hYTicks.forEach(v=>{
    line(g,left-3,Y(v),left,Y(v),'#555',.8,'y-tick');
    label(g,left-5,Y(v)+4,String(v).replace('-','−'),11.8,TXT,'end','y-tick-label');
  });
  hXTicks.forEach(v=>{
    line(g,X(v),bottom,X(v),bottom+3,'#555',.8,'x-tick');
    label(g,X(v),488.5,String(v).replace('-','−'),11.8,TXT,'middle','x-tick-label');
  });
})();

/* ---------- GO bars ---------- */
(function(){
  const g=add(root,'g',{},'bar-panel-i');
  const X=lin(0,60,358.3,424);
  const rowY=i=>582.7+i*22.15;
  const left=355.7,right=442.3,top=569.3,bottom=795.3;
  iXTicks.concat([10,30,50,70]).forEach(v=>line(g,X(v),top,X(v),bottom,GRID,1,'x-gridline'));
  iTerms.forEach((term,i)=>{
    line(g,left,rowY(i),right,rowY(i),GRID,1,'y-gridline');
    add(g,'rect',{x:X(0),y:rowY(i)-10,width:X(iCounts[i])-X(0),height:20,fill:iColors[i]},'bar-'+i);
    line(g,left-3,rowY(i),left,rowY(i),'#333',.9,'y-tick');
    label(g,349,rowY(i)+5.8,term,16.5,'#111','end','term-label');
  });
  add(g,'rect',{x:left,y:top,width:right-left,height:bottom-top,fill:'none',stroke:'#666','stroke-width':1.1},'plot-border');
  iXTicks.forEach(v=>{
    line(g,X(v),bottom,X(v),bottom+3,'#333',.9,'x-tick');
    label(g,X(v),815,String(v),16,'#111','middle','x-tick-label');
  });
  iLegendLabels.forEach((s,i)=>{
    const y=635.3+i*29.7;
    label(g,496,y+4.4,s,12.2,'#111','start','colorbar-label');
  });
})();

/* ---------- KEGG dots ---------- */
(function(){
  const g=add(root,'g',{},'dot-panel-j');
  const X=lin(.05,.1,829.3,906);
  const rowY=i=>576.7+i*21.88;
  const R=c=>Math.sqrt(Math.max(4,32+3.7*(c-10)));
  const left=798.7,right=932.7,top=563.7,bottom=786;
  jXTicks.concat([.0625,.0875,.1125]).forEach(v=>line(g,X(v),top,X(v),bottom,GRID,1,'x-gridline'));
  const dots=add(g,'g',{'clip-path':'url(#j-clip)'},'dots');
  jTerms.forEach((term,i)=>{
    line(g,left,rowY(i),right,rowY(i),GRID,1,'y-gridline');
    line(g,left-3,rowY(i),left,rowY(i),'#333',.9,'y-tick');
    label(g,793.3,rowY(i)+4.7,term,13.3,'#111','end','term-label');
  });
  g.appendChild(dots);
  jTerms.forEach((term,i)=>{
    add(dots,'circle',{cx:X(jRatio[i]),cy:rowY(i),r:R(jCount[i]),fill:gradColor(jPadjust[i]/.00048)},'dot-'+i);
  });
  add(g,'rect',{x:left,y:top,width:right-left,height:bottom-top,fill:'none',stroke:'#666','stroke-width':1.1},'plot-border');
  jXTicks.forEach((v,i)=>{
    line(g,X(v),bottom,X(v),bottom+3,'#333',.9,'x-tick');
    label(g,X(v),801.5,jXLabels[i],13,'#111','middle','x-tick-label');
  });
  const legendY=[570.7,590,610,632,656.3];
  jSizeLegend.forEach((c,i)=>{
    add(g,'circle',{cx:964,cy:legendY[i],r:R(c),fill:'#000'},'size-legend-dot');
    label(g,982.7,legendY[i]+3.6,String(c),10,'#111','start','size-legend-label');
  });
  jColorTicks.forEach((v,i)=>{
    label(g,977.3,712.3+v/.00048*95.4+3.6,jColorLabels[i],10,'#111','start','colorbar-label');
  });
})();

/* ---------- GSEA ---------- */
function gseaPanel(id,left,right,X,topY,top,rugTop,rugH,metricTop,axisY,metricY,esTicks,esLabels,series,colors,rugs,rugColors,legendX,legendY){
  const g=add(root,'g',{},'gsea-panel-'+id);
  for(let r=50;r<=550;r+=50){
    line(g,X(r),top,X(r),rugTop,GRID,r%100?1:1.3,'top-gridline');
    line(g,X(r),metricTop,X(r),axisY,GRID,r%100?1:1.3,'bottom-gridline');
  }
  rugs.forEach((hits,row)=>{
    hits.forEach(h=>{
      line(g,X(h),rugTop+row*rugH,X(h),rugTop+(row+1)*rugH,rugColors[row],1.3,'gene-hit-mark');
    });
  });
  const curve=[[metricCurve[0][0],0]].concat(metricCurve,[[metricCurve[metricCurve.length-1][0],0]]);
  add(g,'path',{d:pathOf(curve,X,metricY,true),fill:'#bebebe'},'ranked-list-metric-area');
  series.forEach((s,i)=>{
    add(g,'path',{d:pathOf(s,X,topY,false),fill:'none',stroke:colors[i],'stroke-width':2.3,'stroke-linejoin':'miter'},'running-score-line-'+i);
  });
  colors.forEach((c,i)=>{
    line(g,legendX,legendY[i],legendX+17.5,legendY[i],c,2.3,'legend-line-'+i);
  });
  line(g,left,top,left,axisY,'#333',1.5,'y-axis');
  line(g,left,axisY,right,axisY,'#000',1.5,'x-axis');
  esTicks.forEach((v,i)=>{
    line(g,left-3,topY(v),left,topY(v),'#555',.8,'es-tick');
    label(g,left-5,topY(v)+4,esLabels[i],11.3,TXT,'end','es-tick-label');
  });
  metricTicks.forEach((v,i)=>{
    line(g,left-3,metricY(v),left,metricY(v),'#555',.8,'metric-tick');
    label(g,left-5,metricY(v)+4,metricLabels[i],11.3,TXT,'end','metric-tick-label');
  });
  rankTicks.forEach(v=>{
    line(g,X(v),axisY,X(v),axisY+3,'#555',.8,'rank-tick');
    label(g,X(v),axisY+15,String(v),11.3,TXT,'middle','rank-tick-label');
  });
}
const RED='#F8766D', GRN='#00BA38', BLU='#619CFF';
gseaPanel('k',97.3,435,lin(100,500,156.7,398.7),lin(0,.6,1026.7,887.7),880,1058.3,21.15,1121.7,1211,lin(0,.6,1207.3,1132.3),kEsTicks,kEsLabels,
  [kApoptosis,kLeukocyte,kProgesterone],[RED,GRN,BLU],[kRugLeukocyte,kRugApoptosis,kRugProgesterone],[GRN,RED,BLU],249.3,[897.7,919,940.7]);
gseaPanel('l',627.3,964.7,lin(100,500,686.7,928),lin(0,.5,1036.3,883.7),879.3,1057.3,21.15,1120.7,1210,lin(0,.6,1206.3,1131.7),lEsTicks,lEsLabels,
  [lCellCycle,lOocyte,lSalmonella],[RED,GRN,BLU],[lRugCellCycle,lRugSalmonella,lRugOocyte],[RED,BLU,GRN],835,[897,918.3,940]);
</script>
</body>
</html>
